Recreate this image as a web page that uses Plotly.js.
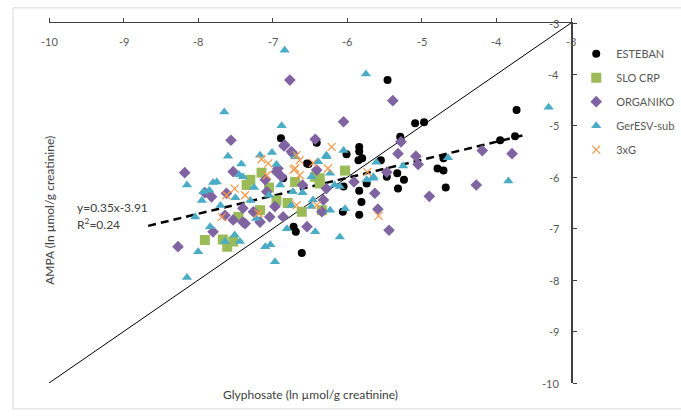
<!DOCTYPE html>
<html>
<head>
<meta charset="utf-8">
<script src="https://cdn.plot.ly/plotly-3.0.1.min.js"></script>
<style>html,body{margin:0;padding:0;background:#fff;}#chart{width:681px;height:419px;}</style>
</head>
<body>
<div id="chart"></div>
<script>
// ---- data (ln µmol/g creatinine) ----
const estebanX = [-5.46,-5.09,-4.97,-3.73,-3.95,-3.75,-5.29,-5.28,-5.84,-5.84,-5.80,-5.85,-6.01,-5.55,-4.79,-4.71,-4.71,-5.33,-5.47,-5.24,-6.05,-5.74,-5.84,-5.32,-4.68,-5.81,-6.06,-5.84,-6.52,-6.72,-6.69,-6.61,-6.89,-6.41,-6.86,-6.54];
const estebanY = [-4.11,-4.95,-4.93,-4.69,-5.28,-5.20,-5.21,-5.30,-5.41,-5.50,-5.63,-5.67,-5.55,-5.67,-5.83,-5.87,-5.63,-5.92,-5.99,-6.05,-6.18,-6.12,-6.26,-6.22,-6.20,-6.48,-6.67,-6.73,-5.74,-6.96,-7.06,-7.47,-5.24,-5.33,-6.02,-5.73];

const sloX = [-7.15,-7.35,-7.30,-7.46,-7.91,-7.67,-7.61,-7.53,-7.17,-6.37,-6.03,-6.70,-6.43,-6.37,-6.61,-6.34,-6.95,-7.05,-6.80];
const sloY = [-5.91,-6.15,-6.05,-6.77,-7.22,-7.21,-7.35,-7.25,-6.64,-6.02,-5.87,-6.09,-5.99,-6.12,-6.67,-6.64,-6.45,-6.20,-6.50];

const organikoX = [-6.77,-7.56,-8.18,-7.53,-6.43,-6.84,-6.73,-6.95,-6.05,-5.39,-5.28,-5.32,-5.08,-5.05,-5.47,-5.91,-5.63,-4.90,-4.27,-4.19,-3.79,-5.59,-5.44,-6.85,-6.75,-6.93,-6.41,-7.91,-7.82,-7.62,-7.64,-7.40,-7.26,-7.08,-8.27,-7.04,-6.97,-6.28,-6.32,-6.54,-6.86,-6.88,-7.53,-7.80,-7.37,-7.17,-6.34,-7.10,-6.60,-7.40];
const organikoY = [-4.11,-5.28,-5.91,-5.89,-5.26,-5.37,-5.54,-5.89,-4.92,-4.51,-5.31,-5.54,-5.59,-5.75,-5.90,-6.09,-6.31,-6.37,-6.15,-5.48,-5.54,-6.62,-7.03,-5.39,-5.50,-5.83,-5.86,-6.30,-6.38,-6.31,-6.74,-6.87,-6.67,-6.28,-7.35,-6.77,-6.57,-6.22,-6.44,-6.96,-6.77,-5.99,-6.83,-7.06,-6.90,-6.87,-6.67,-6.05,-6.15,-6.60];

const gerX = [-6.84,-7.65,-6.88,-5.75,-3.30,-3.84,-5.61,-5.25,-4.65,-5.74,-5.65,-6.05,-6.70,-6.28,-6.39,-6.23,-6.48,-6.17,-6.10,-5.65,-6.73,-6.46,-6.23,-6.03,-6.48,-6.81,-6.43,-6.10,-8.15,-8.00,-6.97,-7.03,-7.44,-7.60,-7.17,-7.75,-7.93,-8.04,-7.40,-7.51,-7.10,-7.64,-7.22,-7.84,-7.42,-7.01,-6.28,-7.30,-7.05,-6.90,-6.60,-6.95,-7.25,-7.70,-7.50,-6.75,-7.45,-7.85,-8.15,-7.95,-7.80];
const gerY = [-3.53,-4.73,-5.00,-3.99,-4.64,-6.07,-5.71,-5.78,-5.62,-6.05,-5.99,-5.48,-5.60,-5.60,-5.70,-5.92,-5.99,-6.15,-6.18,-6.02,-6.28,-6.44,-6.64,-6.61,-6.57,-7.00,-7.06,-7.16,-7.95,-7.45,-7.64,-7.31,-7.25,-5.59,-5.57,-6.09,-6.28,-6.77,-5.99,-7.12,-7.35,-7.25,-6.80,-6.96,-5.74,-5.52,-5.57,-6.45,-6.35,-6.15,-6.30,-5.75,-6.20,-6.55,-6.40,-6.55,-5.95,-6.25,-6.15,-6.45,-6.10];

const tgX = [-5.73,-5.58,-6.21,-7.15,-7.06,-6.68,-6.64,-6.46,-6.70,-6.26,-6.64,-7.08,-7.62,-7.37,-7.51,-7.68,-7.19,-6.72,-6.68,-6.41];
const tgY = [-5.90,-6.75,-5.41,-5.65,-5.73,-5.57,-5.67,-5.72,-5.83,-5.83,-5.96,-5.96,-6.35,-6.35,-6.22,-6.77,-6.70,-5.85,-6.54,-6.54];

const seriesNames = ["ESTEBAN","SLO CRP","ORGANIKO","GerESV-sub","3xG"];
const identityX = [-10,-3];
const fitSlope = 0.35, fitIntercept = -3.91;
const fitX = [-8.67,-3.62];
const xTicks = [-10,-9,-8,-7,-6,-5,-4,-3];
const yTicks = [-3,-4,-5,-6,-7,-8,-9,-10];

const txt = "Lato, 'Open Sans', sans-serif";
const mk = (x,y,name,marker,i)=>({x,y,name,type:'scatter',mode:'markers',marker,legendgroup:'g'+i,cliponaxis:false});
const traces = [
  {x:identityX,y:identityX,type:'scatter',mode:'lines',line:{color:'#000',width:1},showlegend:false,hoverinfo:'skip'},
  {x:fitX,y:fitX.map(v=>fitSlope*v+fitIntercept),type:'scatter',mode:'lines',line:{color:'#000',width:2.5,dash:'8px,5px'},showlegend:false,hoverinfo:'skip'},
  mk(estebanX,estebanY,seriesNames[0],{symbol:'circle',size:8,color:'#000'},0),
  mk(sloX,sloY,seriesNames[1],{symbol:'square',size:10,color:'#9BBB59'},1),
  mk(organikoX,organikoY,seriesNames[2],{symbol:'diamond',size:9,color:'#8064A2'},2),
  mk(gerX,gerY,seriesNames[3],{symbol:'triangle-up',size:9,color:'#4BACC6'},3),
  mk(tgX,tgY,seriesNames[4],{symbol:'x-thin-open',size:8,color:'#F79646',line:{color:'#F79646',width:1.2}},4)
];

const tickFont = {family:txt,size:11,color:'#595959'};
const annotations = [
  {x:-9.65,y:-6.58,xref:'x',yref:'y',text:'y=0.35x-3.91',showarrow:false,xanchor:'left',font:{family:txt,size:12,color:'#404040'}},
  {x:-9.65,y:-6.91,xref:'x',yref:'y',text:'R<sup>2</sup>=0.24',showarrow:false,xanchor:'left',font:{family:txt,size:12,color:'#404040'}},
  {x:-0.017,y:0.48,xref:'paper',yref:'paper',text:'AMPA (ln µmol/g creatinine)',textangle:-90,showarrow:false,font:{family:txt,size:12,color:'#404040'}},
  {x:0.5,y:-0.033,xref:'paper',yref:'paper',text:'Glyphosate (ln µmol/g creatinine)',showarrow:false,yanchor:'middle',font:{family:txt,size:12,color:'#404040'}}
];
xTicks.forEach(v=>annotations.push({x:v,y:0.95,xref:'x',yref:'paper',text:String(v),showarrow:false,xanchor:'center',yanchor:'middle',font:tickFont}));
yTicks.forEach(v=>annotations.push({x:0.981,y:v,xref:'paper',yref:'y',text:String(v),showarrow:false,xanchor:'right',yanchor:'middle',font:tickFont}));

const layout = {
  width:681,height:419,
  margin:{l:49,r:110,t:23,b:36,autoexpand:false},
  paper_bgcolor:'#fff',plot_bgcolor:'#fff',
  font:{family:txt,size:11,color:'#595959'},
  showlegend:true,
  legend:{x:1.01,y:0.955,xanchor:'left',yanchor:'top',font:{family:txt,size:11,color:'#595959'},traceorder:'grouped',tracegroupgap:5,bgcolor:'rgba(0,0,0,0)'},
  xaxis:{range:[-10,-3],side:'top',tickvals:xTicks,ticks:'outside',ticklen:4,tickcolor:'#404040',showticklabels:false,
         showline:true,linecolor:'#404040',linewidth:1.5,showgrid:false,zeroline:false,fixedrange:true},
  yaxis:{range:[-10,-3],side:'right',tickvals:yTicks,ticks:'outside',ticklen:4,tickcolor:'#404040',showticklabels:false,
         showline:true,linecolor:'#404040',linewidth:1.5,showgrid:false,zeroline:false,fixedrange:true},
  annotations:annotations,
  shapes:[{type:'rect',xref:'paper',yref:'paper',x0:-0.069,y0:-0.072,x1:1.25,y1:1.042,line:{color:'#d9d9d9',width:1}}]
};
Plotly.newPlot('chart',traces,layout,{displayModeBar:false,staticPlot:true});
</script>
</body>
</html>
